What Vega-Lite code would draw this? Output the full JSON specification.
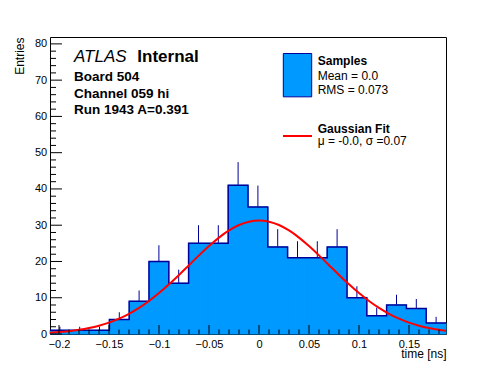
{
  "$schema": "https://vega.github.io/schema/vega-lite/v6.json",
  "width": 396,
  "height": 297,
  "autosize": {"type": "none"},
  "padding": {"left": 50, "top": 37, "right": 50, "bottom": 38},
  "background": "white",
  "datasets": {
    "bins": [
      {"t": -0.1991, "lo": -0.2090, "hi": -0.1892, "n": 1, "err": 1},
      {"t": -0.1793, "lo": -0.1892, "hi": -0.1694, "n": 1, "err": 1},
      {"t": -0.1595, "lo": -0.1694, "hi": -0.1496, "n": 1, "err": 1},
      {"t": -0.1397, "lo": -0.1496, "hi": -0.1298, "n": 4, "err": 2},
      {"t": -0.1199, "lo": -0.1298, "hi": -0.1100, "n": 9, "err": 3},
      {"t": -0.1001, "lo": -0.1100, "hi": -0.0902, "n": 20, "err": 4.47},
      {"t": -0.0803, "lo": -0.0902, "hi": -0.0704, "n": 14, "err": 3.74},
      {"t": -0.0605, "lo": -0.0704, "hi": -0.0506, "n": 25, "err": 5},
      {"t": -0.0407, "lo": -0.0506, "hi": -0.0308, "n": 25, "err": 5},
      {"t": -0.0209, "lo": -0.0308, "hi": -0.0110, "n": 41, "err": 6.4},
      {"t": -0.0011, "lo": -0.0110, "hi": 0.0088, "n": 35, "err": 5.92},
      {"t": 0.0187, "lo": 0.0088, "hi": 0.0286, "n": 24, "err": 4.9},
      {"t": 0.0385, "lo": 0.0286, "hi": 0.0484, "n": 21, "err": 4.58},
      {"t": 0.0583, "lo": 0.0484, "hi": 0.0682, "n": 21, "err": 4.58},
      {"t": 0.0781, "lo": 0.0682, "hi": 0.0880, "n": 24, "err": 4.9},
      {"t": 0.0979, "lo": 0.0880, "hi": 0.1078, "n": 10, "err": 3.16},
      {"t": 0.1177, "lo": 0.1078, "hi": 0.1276, "n": 5, "err": 2.24},
      {"t": 0.1375, "lo": 0.1276, "hi": 0.1474, "n": 8, "err": 2.83},
      {"t": 0.1573, "lo": 0.1474, "hi": 0.1672, "n": 7, "err": 2.65},
      {"t": 0.1771, "lo": 0.1672, "hi": 0.1870, "n": 3, "err": 1.73}
    ],
    "fit": [
      {"t": -0.209, "f": 0.363}, {"t": -0.2, "f": 0.528}, {"t": -0.19, "f": 0.787},
      {"t": -0.18, "f": 1.148}, {"t": -0.17, "f": 1.64}, {"t": -0.16, "f": 2.297},
      {"t": -0.15, "f": 3.151}, {"t": -0.14, "f": 4.236}, {"t": -0.13, "f": 5.581},
      {"t": -0.12, "f": 7.203}, {"t": -0.11, "f": 9.105}, {"t": -0.1, "f": 11.28},
      {"t": -0.09, "f": 13.7}, {"t": -0.08, "f": 16.29}, {"t": -0.07, "f": 18.98},
      {"t": -0.06, "f": 21.68}, {"t": -0.05, "f": 24.25}, {"t": -0.04, "f": 26.58},
      {"t": -0.03, "f": 28.55}, {"t": -0.02, "f": 30.05}, {"t": -0.01, "f": 30.98},
      {"t": 0.0, "f": 31.3}, {"t": 0.01, "f": 30.98}, {"t": 0.02, "f": 30.05},
      {"t": 0.03, "f": 28.55}, {"t": 0.04, "f": 26.58}, {"t": 0.05, "f": 24.25},
      {"t": 0.06, "f": 21.68}, {"t": 0.07, "f": 18.98}, {"t": 0.08, "f": 16.29},
      {"t": 0.09, "f": 13.7}, {"t": 0.1, "f": 11.28}, {"t": 0.11, "f": 9.105},
      {"t": 0.12, "f": 7.203}, {"t": 0.13, "f": 5.581}, {"t": 0.14, "f": 4.236},
      {"t": 0.15, "f": 3.151}, {"t": 0.16, "f": 2.297}, {"t": 0.17, "f": 1.64},
      {"t": 0.18, "f": 1.148}, {"t": 0.187, "f": 0.883}
    ],
    "xmajor": [{"v": -0.2}, {"v": -0.15}, {"v": -0.1}, {"v": -0.05}, {"v": 0}, {"v": 0.05}, {"v": 0.1}, {"v": 0.15}],
    "xminor": [
      {"v": -0.19}, {"v": -0.18}, {"v": -0.17}, {"v": -0.16}, {"v": -0.14}, {"v": -0.13}, {"v": -0.12}, {"v": -0.11},
      {"v": -0.09}, {"v": -0.08}, {"v": -0.07}, {"v": -0.06}, {"v": -0.04}, {"v": -0.03}, {"v": -0.02}, {"v": -0.01},
      {"v": 0.01}, {"v": 0.02}, {"v": 0.03}, {"v": 0.04}, {"v": 0.06}, {"v": 0.07}, {"v": 0.08}, {"v": 0.09},
      {"v": 0.11}, {"v": 0.12}, {"v": 0.13}, {"v": 0.14}, {"v": 0.16}, {"v": 0.17}, {"v": 0.18}
    ],
    "ymajor": [{"v": 0}, {"v": 10}, {"v": 20}, {"v": 30}, {"v": 40}, {"v": 50}, {"v": 60}, {"v": 70}, {"v": 80}],
    "yminor": [
      {"v": 2}, {"v": 4}, {"v": 6}, {"v": 8}, {"v": 12}, {"v": 14}, {"v": 16}, {"v": 18},
      {"v": 22}, {"v": 24}, {"v": 26}, {"v": 28}, {"v": 32}, {"v": 34}, {"v": 36}, {"v": 38},
      {"v": 42}, {"v": 44}, {"v": 46}, {"v": 48}, {"v": 52}, {"v": 54}, {"v": 56}, {"v": 58},
      {"v": 62}, {"v": 64}, {"v": 66}, {"v": 68}, {"v": 72}, {"v": 74}, {"v": 76}, {"v": 78}
    ]
  },
  "layer": [
    {
      "data": {"name": "bins"},
      "mark": {"type": "errorbar", "color": "#000099", "thickness": 1},
      "encoding": {
        "x": {"field": "t", "type": "quantitative", "title": "time [ns]", "scale": {"domain": [-0.209, 0.187], "nice": false, "zero": false}},
        "y": {"field": "n", "type": "quantitative", "title": "Entries", "scale": {"domain": [0, 81.9], "nice": false, "zero": false}},
        "yError": {"field": "err"}
      }
    },
    {
      "data": {"name": "bins"},
      "mark": {"type": "rect", "fill": "#0099ff", "stroke": "#0099ff", "strokeWidth": 1},
      "encoding": {
        "x": {"field": "lo", "type": "quantitative", "title": "time [ns]", "scale": {"domain": [-0.209, 0.187], "nice": false, "zero": false}},
        "x2": {"field": "hi"},
        "y": {"field": "n", "type": "quantitative", "title": "Entries", "scale": {"domain": [0, 81.9], "nice": false, "zero": false}},
        "y2": {"datum": 0}
      }
    },
    {
      "data": {"name": "bins"},
      "transform": [{"fold": ["lo", "hi"], "as": ["edge", "xv"]}],
      "mark": {"type": "line", "color": "#000099", "strokeWidth": 1.5, "interpolate": "linear"},
      "encoding": {
        "x": {"field": "xv", "type": "quantitative", "title": "time [ns]"},
        "y": {"field": "n", "type": "quantitative", "title": "Entries"},
        "order": [{"field": "t", "type": "quantitative"}, {"field": "xv", "type": "quantitative"}]
      }
    },
    {
      "data": {"name": "fit"},
      "mark": {"type": "line", "color": "#ff0000", "strokeWidth": 2, "interpolate": "monotone"},
      "encoding": {
        "x": {"field": "t", "type": "quantitative", "title": "time [ns]"},
        "y": {"field": "f", "type": "quantitative", "title": "Entries"}
      }
    },
    {
      "data": {"name": "xmajor"},
      "mark": {"type": "rule", "color": "black", "strokeWidth": 1},
      "encoding": {
        "x": {"field": "v", "type": "quantitative", "title": "time [ns]"},
        "y": {"datum": 0, "type": "quantitative", "title": "Entries"},
        "y2": {"datum": 2.48}
      }
    },
    {
      "data": {"name": "xminor"},
      "mark": {"type": "rule", "color": "black", "strokeWidth": 1},
      "encoding": {
        "x": {"field": "v", "type": "quantitative", "title": "time [ns]"},
        "y": {"datum": 0, "type": "quantitative", "title": "Entries"},
        "y2": {"datum": 1.24}
      }
    },
    {
      "data": {"name": "ymajor"},
      "mark": {"type": "rule", "color": "black", "strokeWidth": 1},
      "encoding": {
        "y": {"field": "v", "type": "quantitative", "title": "Entries"},
        "x": {"datum": -0.209, "type": "quantitative", "title": "time [ns]"},
        "x2": {"datum": -0.197}
      }
    },
    {
      "data": {"name": "yminor"},
      "mark": {"type": "rule", "color": "black", "strokeWidth": 1},
      "encoding": {
        "y": {"field": "v", "type": "quantitative", "title": "Entries"},
        "x": {"datum": -0.209, "type": "quantitative", "title": "time [ns]"},
        "x2": {"datum": -0.203}
      }
    },
    {
      "data": {"values": [{}]},
      "mark": {"type": "rect", "fill": "#0099ff", "stroke": "#000099", "strokeWidth": 1},
      "encoding": {
        "x": {"datum": 0.0243, "type": "quantitative", "title": "time [ns]"},
        "x2": {"datum": 0.0527},
        "y": {"datum": 77.35, "type": "quantitative", "title": "Entries"},
        "y2": {"datum": 65.4}
      }
    },
    {
      "data": {"values": [{}]},
      "mark": {"type": "rule", "color": "#ff0000", "strokeWidth": 2},
      "encoding": {
        "x": {"datum": 0.024, "type": "quantitative", "title": "time [ns]"},
        "x2": {"datum": 0.053},
        "y": {"datum": 54.6, "type": "quantitative", "title": "Entries"}
      }
    },
    {
      "data": {"values": [{}]},
      "mark": {"type": "text", "text": "Samples", "fontSize": 12, "fontWeight": "bold", "align": "left", "baseline": "alphabetic", "color": "black"},
      "encoding": {
        "x": {"datum": 0.0587, "type": "quantitative", "title": "time [ns]"},
        "y": {"datum": 74.1, "type": "quantitative", "title": "Entries"}
      }
    },
    {
      "data": {"values": [{}]},
      "mark": {"type": "text", "text": ["Mean = 0.0", "RMS = 0.073"], "lineHeight": 14, "fontSize": 12, "align": "left", "baseline": "alphabetic", "color": "black"},
      "encoding": {
        "x": {"datum": 0.0587, "type": "quantitative", "title": "time [ns]"},
        "y": {"datum": 70.0, "type": "quantitative", "title": "Entries"}
      }
    },
    {
      "data": {"values": [{}]},
      "mark": {"type": "text", "text": "Gaussian Fit", "fontSize": 12, "fontWeight": "bold", "align": "left", "baseline": "alphabetic", "color": "black"},
      "encoding": {
        "x": {"datum": 0.0587, "type": "quantitative", "title": "time [ns]"},
        "y": {"datum": 55.4, "type": "quantitative", "title": "Entries"}
      }
    },
    {
      "data": {"values": [{}]},
      "mark": {"type": "text", "text": "μ = -0.0, σ =0.07", "fontSize": 12, "align": "left", "baseline": "alphabetic", "color": "black"},
      "encoding": {
        "x": {"datum": 0.0587, "type": "quantitative", "title": "time [ns]"},
        "y": {"datum": 52.0, "type": "quantitative", "title": "Entries"}
      }
    },
    {
      "data": {"values": [{}]},
      "mark": {"type": "text", "text": "ATLAS", "fontSize": 17, "fontStyle": "italic", "align": "left", "baseline": "alphabetic", "color": "black"},
      "encoding": {
        "x": {"datum": -0.185, "type": "quantitative", "title": "time [ns]"},
        "y": {"datum": 74.95, "type": "quantitative", "title": "Entries"}
      }
    },
    {
      "data": {"values": [{}]},
      "mark": {"type": "text", "text": "Internal", "fontSize": 17, "fontWeight": "bold", "align": "left", "baseline": "alphabetic", "color": "black"},
      "encoding": {
        "x": {"datum": -0.1217, "type": "quantitative", "title": "time [ns]"},
        "y": {"datum": 74.95, "type": "quantitative", "title": "Entries"}
      }
    },
    {
      "data": {"values": [{}]},
      "mark": {"type": "text", "text": ["Board 504", "Channel 059 hi", "Run 1943 A=0.391"], "lineHeight": 16.7, "fontSize": 13.5, "fontWeight": "bold", "align": "left", "baseline": "alphabetic", "color": "black"},
      "encoding": {
        "x": {"datum": -0.185, "type": "quantitative", "title": "time [ns]"},
        "y": {"datum": 69.8, "type": "quantitative", "title": "Entries"}
      }
    }
  ],
  "config": {
    "view": {"stroke": "black", "strokeWidth": 1},
    "font": "Liberation Sans",
    "axisX": {
      "orient": "bottom", "tickCount": 8, "format": "~g",
      "ticks": false, "domain": false, "grid": false, "labelFontSize": 11,
      "labelColor": "black", "labelBaseline": "alphabetic", "labelPadding": 13.8, "labelFlush": false,
      "labelOverlap": false, "labelBound": false,
      "titleFontSize": 12, "titleFontWeight": "normal",
      "titleColor": "black", "titleAlign": "right", "titleBaseline": "alphabetic", "titleAngle": 0,
      "titleX": 396, "titleY": 23
    },
    "axisY": {
      "orient": "left", "tickCount": 8,
      "ticks": false, "domain": false, "grid": false, "labelFontSize": 11,
      "labelColor": "black", "labelBaseline": "middle", "labelAlign": "right", "labelPadding": 3.3,
      "labelFlush": false, "labelOverlap": false, "labelBound": false,
      "titleFontSize": 12, "titleFontWeight": "normal",
      "titleColor": "black", "titleAngle": 270, "titleAlign": "right", "titleBaseline": "alphabetic",
      "titleX": -26.5, "titleY": 0
    }
  }
}
